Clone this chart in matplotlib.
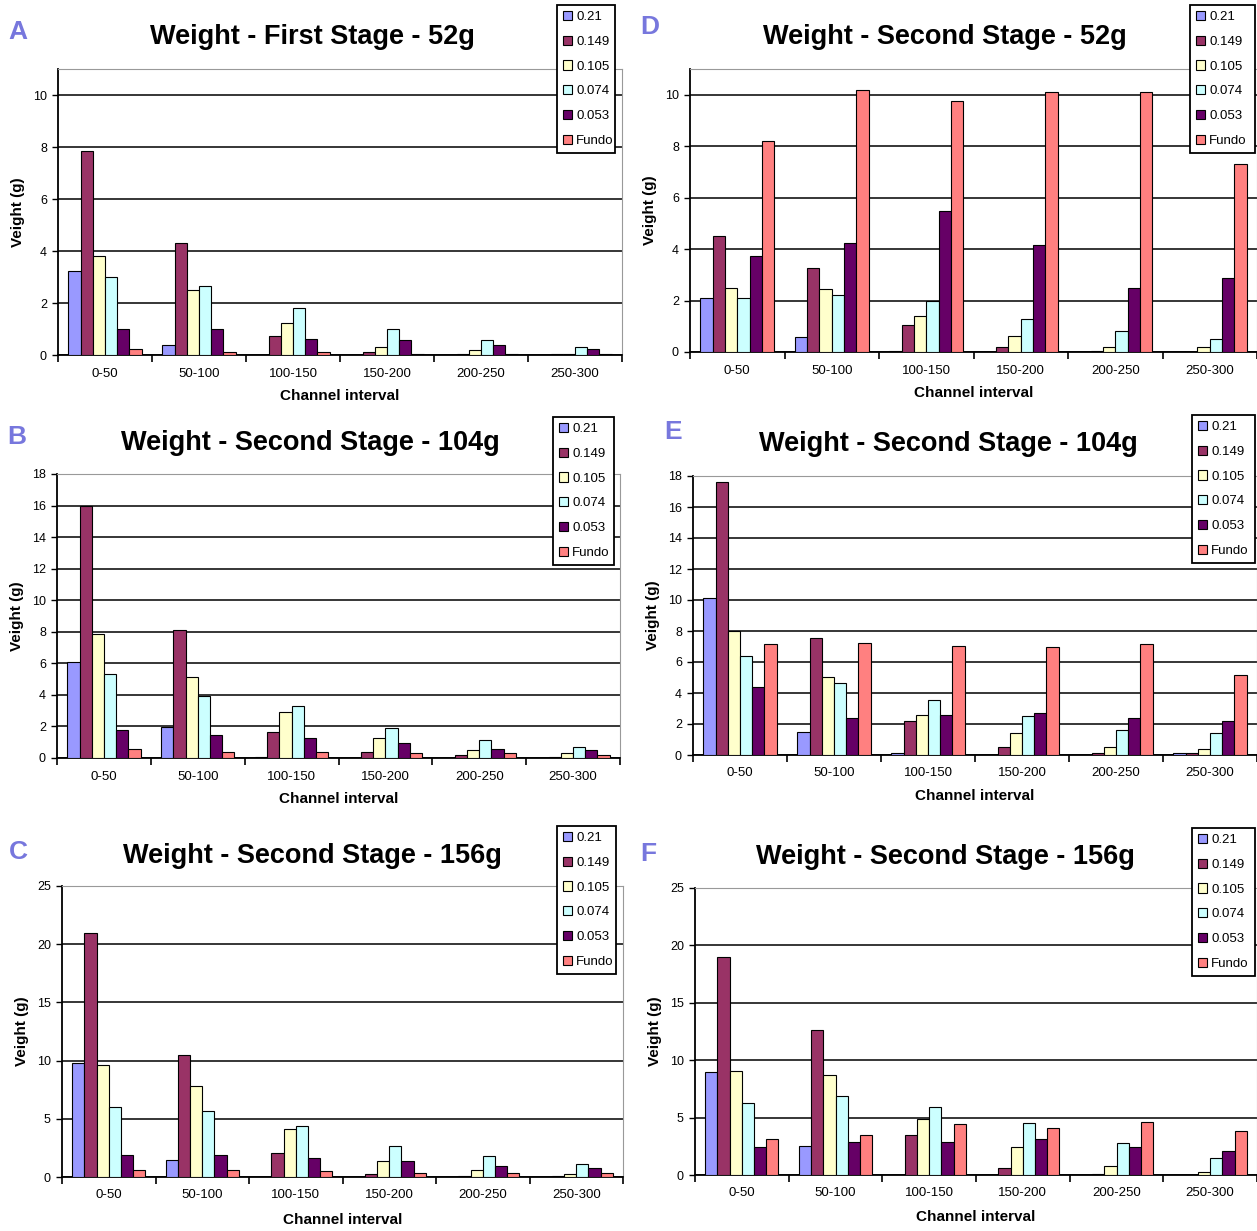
import numpy as np
import matplotlib
matplotlib.use("Agg")
import matplotlib.pyplot as plt

plt.rcParams['font.family'] = ['Liberation Sans', 'DejaVu Sans']

intervals = ["0-50", "50-100", "100-150", "150-200", "200-250", "250-300"]
sieves = ["0.21", "0.149", "0.105", "0.074", "0.053", "Fundo"]
colors = ["#9999FF", "#993366", "#FFFFCC", "#CCFFFF", "#660066", "#FF8080"]

# one row per sieve, one value per channel interval
panel_a = [[3.25, 0.4, 0, 0, 0, 0],
           [7.85, 4.3, 0.75, 0.12, 0.05, 0.05],
           [3.8, 2.5, 1.25, 0.3, 0.2, 0.05],
           [3.0, 2.65, 1.8, 1.0, 0.58, 0.32],
           [1.0, 1.0, 0.62, 0.58, 0.38, 0.25],
           [0.25, 0.12, 0.12, 0.05, 0.05, 0.05]]

panel_b = [[6.1, 1.95, 0.05, 0, 0, 0],
           [16.0, 8.1, 1.65, 0.4, 0.2, 0.05],
           [7.85, 5.15, 2.9, 1.25, 0.5, 0.3],
           [5.35, 3.95, 3.3, 1.9, 1.15, 0.7],
           [1.75, 1.45, 1.25, 0.95, 0.6, 0.5],
           [0.6, 0.4, 0.4, 0.3, 0.3, 0.2]]

panel_c = [[9.8, 1.5, 0, 0, 0, 0],
           [21.0, 10.5, 2.1, 0.25, 0.05, 0.05],
           [9.6, 7.8, 4.1, 1.4, 0.6, 0.25],
           [6.0, 5.7, 4.4, 2.7, 1.8, 1.1],
           [1.9, 1.9, 1.6, 1.4, 0.95, 0.8],
           [0.6, 0.6, 0.5, 0.35, 0.35, 0.35]]

panel_d = [[2.1, 0.6, 0.03, 0, 0, 0],
           [4.5, 3.25, 1.05, 0.18, 0.05, 0],
           [2.5, 2.45, 1.4, 0.62, 0.18, 0.18],
           [2.1, 2.2, 2.0, 1.3, 0.8, 0.5],
           [3.75, 4.25, 5.5, 4.15, 2.5, 2.88],
           [8.2, 10.2, 9.75, 10.1, 10.1, 7.3]]

panel_e = [[10.1, 1.5, 0.1, 0, 0, 0.1],
           [17.6, 7.55, 2.2, 0.5, 0.1, 0.15],
           [8.0, 5.05, 2.6, 1.4, 0.5, 0.4],
           [6.4, 4.65, 3.55, 2.5, 1.6, 1.4],
           [4.4, 2.4, 2.6, 2.7, 2.4, 2.2],
           [7.15, 7.25, 7.05, 6.95, 7.15, 5.15]]

panel_f = [[9.0, 2.5, 0, 0, 0, 0],
           [19.0, 12.6, 3.5, 0.65, 0.1, 0],
           [9.1, 8.7, 4.9, 2.4, 0.8, 0.25],
           [6.3, 6.9, 5.9, 4.5, 2.8, 1.5],
           [2.4, 2.9, 2.9, 3.1, 2.4, 2.1],
           [3.1, 3.5, 4.4, 4.1, 4.6, 3.8]]

W, H = 1257, 1231
fig = plt.figure(figsize=(W / 100, H / 100), dpi=100)


def px_rect(left, top, right, bottom):
    # pixel box (from top-left) -> figure fraction rect
    return [left / W, 1 - bottom / H, (right - left) / W, (bottom - top) / H]


def draw_panel(data, letter, title, ymax, ystep, box, title_xy, letter_xy, legend_box, xlabel_y):
    ax = fig.add_axes(px_rect(*box))
    n = len(intervals)
    bw = 0.13
    x = np.arange(n)
    for i, (vals, col, lab) in enumerate(zip(data, colors, sieves)):
        ax.bar(x + (i - 2.5) * bw, vals, bw, color=col, edgecolor="black",
               linewidth=0.8, label=lab, zorder=3)
    ax.set_xlim(-0.5, n - 0.5)
    ax.set_ylim(0, ymax)
    yt = np.arange(0, ymax + 0.01, ystep)
    ax.set_yticks(yt)
    ax.set_yticklabels([f"{v:g}" for v in yt], fontsize=9)
    ax.yaxis.grid(True, color="black", linewidth=1.1, zorder=0)
    ax.set_axisbelow(True)
    ax.set_xticks(x)
    ax.set_xticklabels(intervals, fontsize=9.5)
    ax.tick_params(axis="x", length=0, pad=9)
    ax.set_xticks(np.arange(-0.5, n, 1.0), minor=True)
    ax.tick_params(axis="x", which="minor", length=5, width=1.2)
    ax.tick_params(axis="y", length=4, width=1.0, pad=4)
    for s in ("left", "bottom"):
        ax.spines[s].set_linewidth(1.3)
    for s in ("top", "right"):
        ax.spines[s].set_color("#999999")
    ax.set_ylabel("Veight (g)", fontsize=11, fontweight="bold", labelpad=6)
    fig.text(title_xy[0] / W, 1 - title_xy[1] / H, title, fontsize=19.5,
             fontweight="bold", ha="center", va="center")
    fig.text(letter_xy[0] / W, 1 - letter_xy[1] / H, letter, fontsize=19,
             fontweight="bold", color="#7777DD", ha="center", va="center")
    fig.text((box[0] + box[2]) / 2 / W, 1 - xlabel_y / H, "Channel interval",
             fontsize=11, fontweight="bold", ha="center", va="center")
    leg = ax.legend(loc="upper left", bbox_to_anchor=px_rect(*legend_box),
                    bbox_transform=fig.transFigure, mode="expand", fontsize=9.5,
                    handlelength=0.7, handleheight=0.7, handletextpad=0.3,
                    labelspacing=0.95, borderpad=0.45, borderaxespad=0,
                    fancybox=False, framealpha=1, edgecolor="black")
    leg.get_frame().set_linewidth(1.3)
    leg.set_zorder(10)
    return ax


draw_panel(panel_a, "A", "Weight - First Stage - 52g", 11, 2,
           (58, 69, 622, 355), (312, 37), (18, 32), (557, 5, 615, 155), 396)
draw_panel(panel_d, "D", "Weight - Second Stage - 52g", 11, 2,
           (690, 69, 1257, 352), (945, 37), (650, 27), (1190, 5, 1255, 155), 393)
draw_panel(panel_b, "B", "Weight - Second Stage - 104g", 18, 2,
           (57, 474, 620, 758), (310, 443), (17, 437), (553, 417, 614, 566), 799)
draw_panel(panel_e, "E", "Weight - Second Stage - 104g", 18, 2,
           (693, 476, 1257, 755), (948, 444), (673, 432), (1192, 415, 1255, 563), 796)
draw_panel(panel_c, "C", "Weight - Second Stage - 156g", 25, 5,
           (62, 886, 623, 1177), (312, 856), (18, 852), (557, 826, 616, 975), 1220)
draw_panel(panel_f, "F", "Weight - Second Stage - 156g", 25, 5,
           (695, 888, 1257, 1175), (945, 857), (648, 854), (1192, 828, 1255, 976), 1217)

fig.savefig("out.png", dpi=100)
